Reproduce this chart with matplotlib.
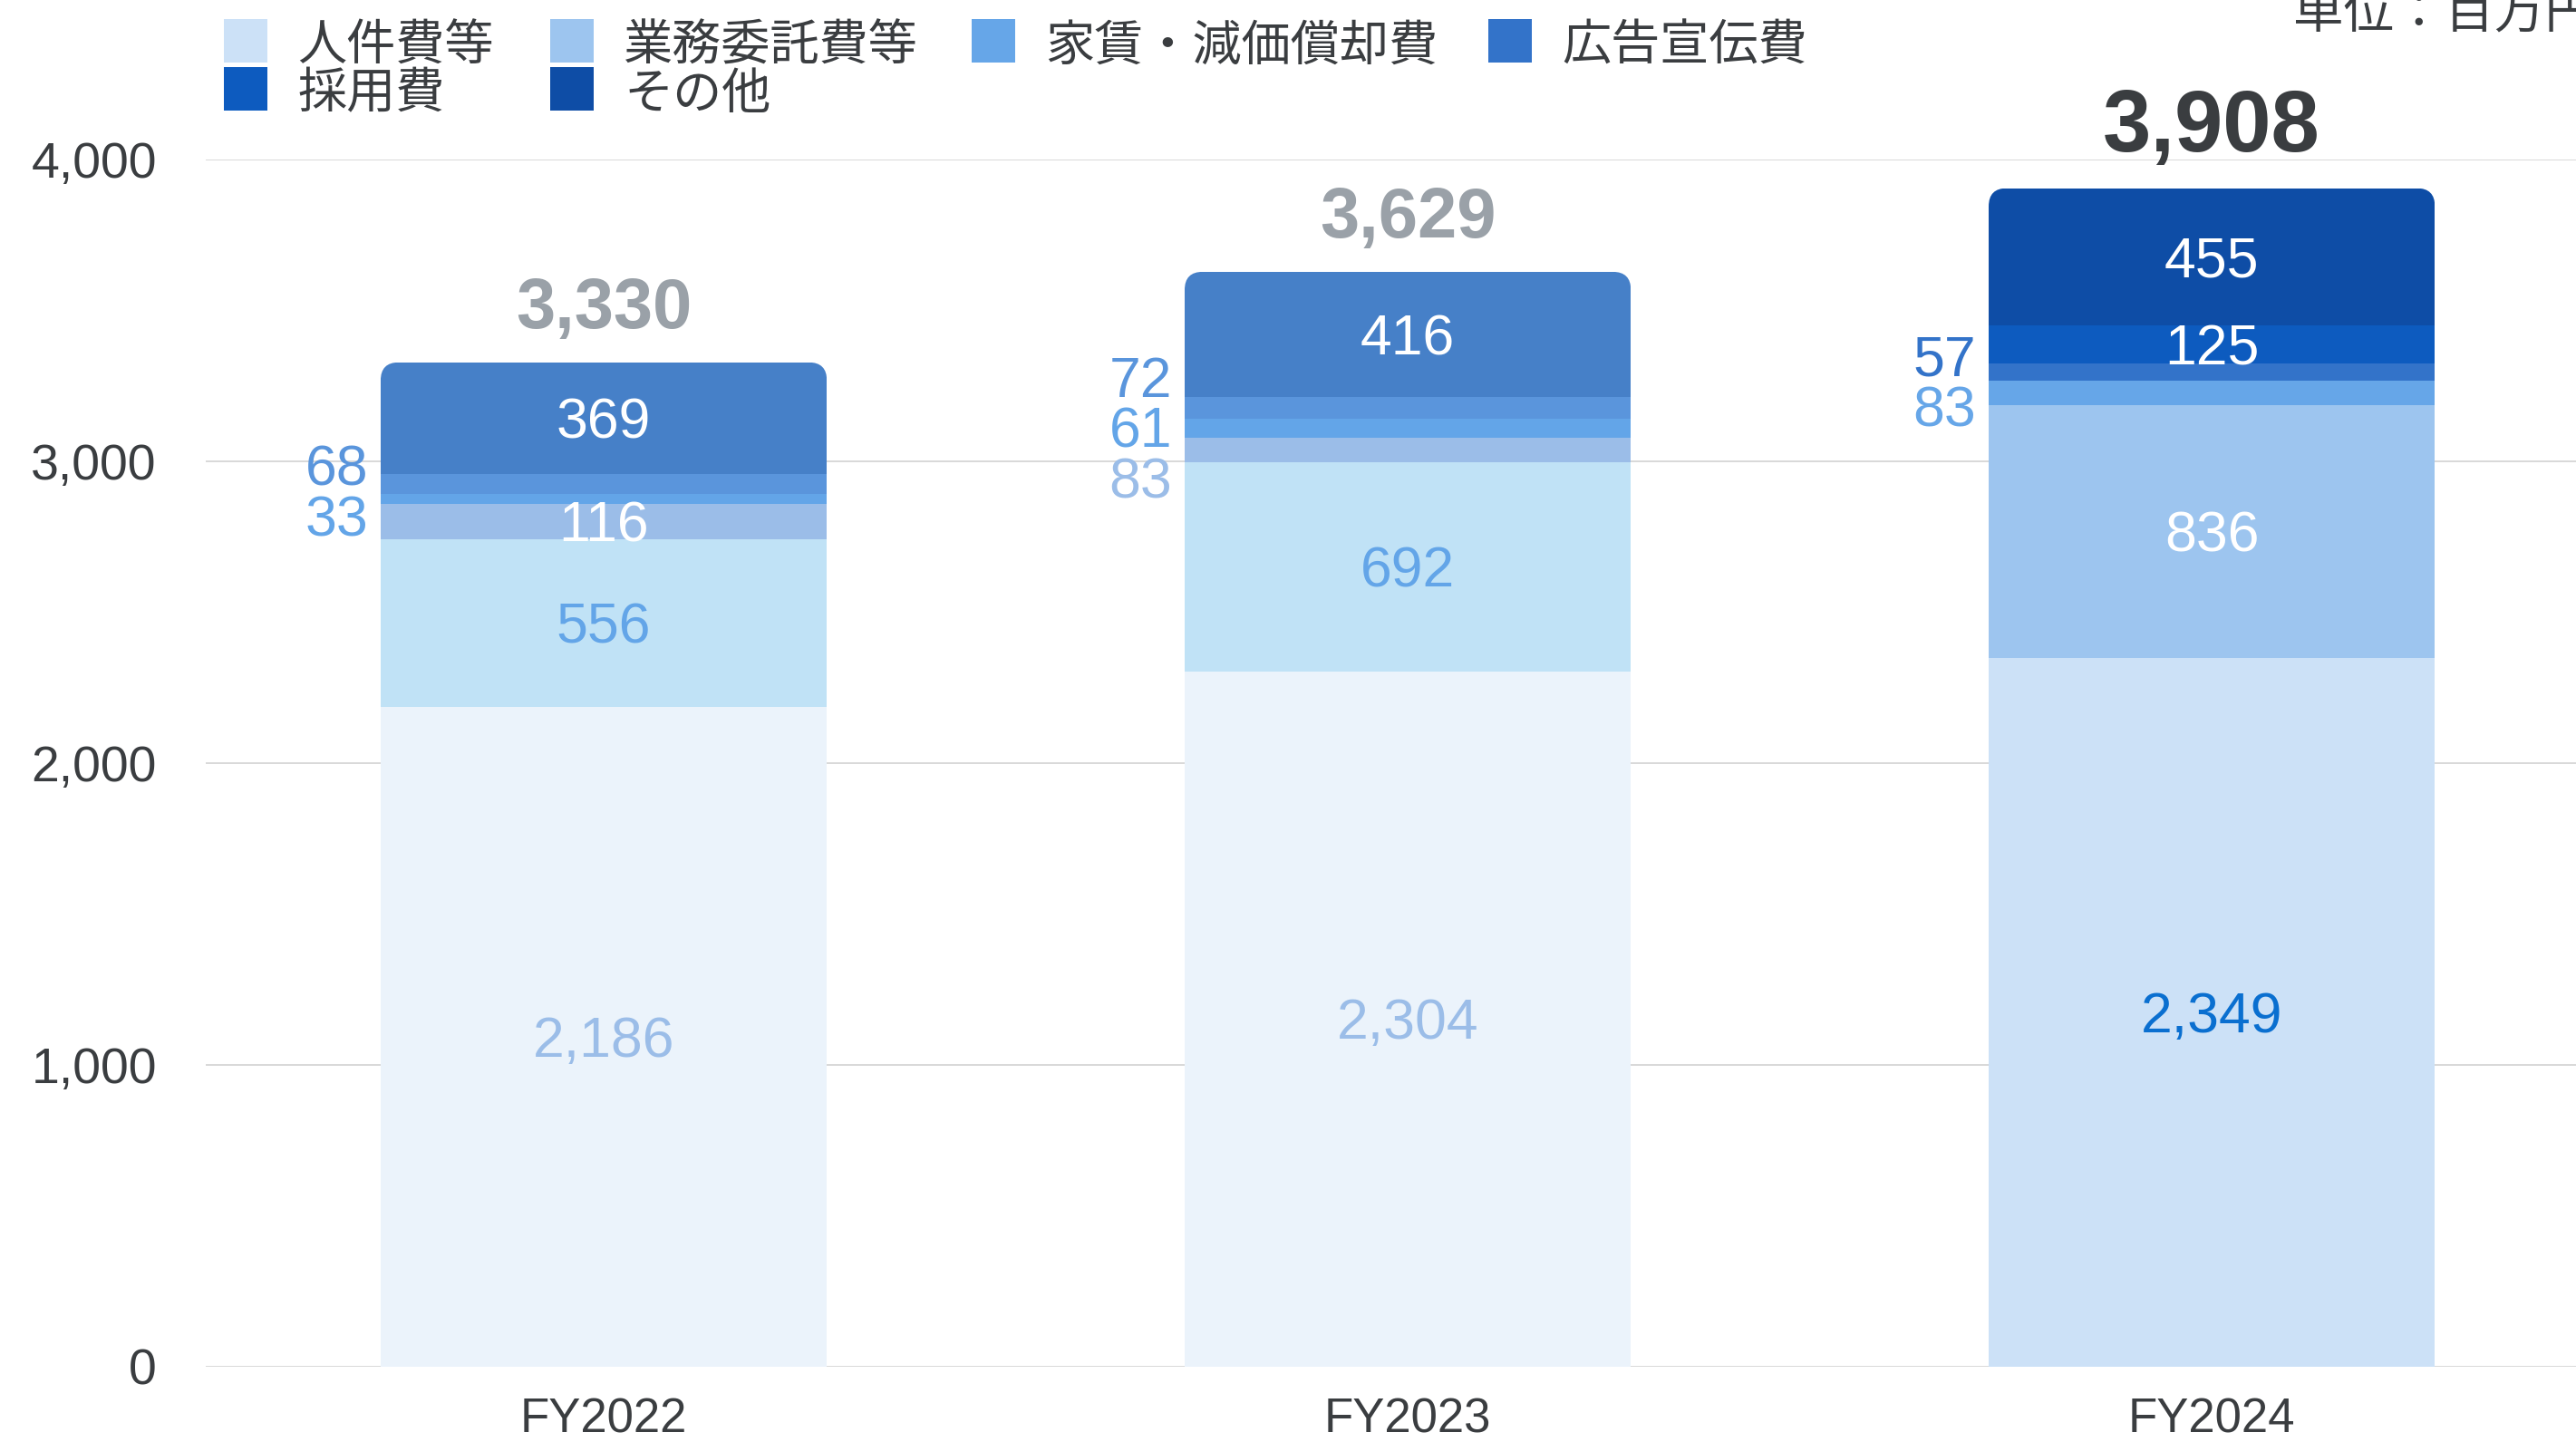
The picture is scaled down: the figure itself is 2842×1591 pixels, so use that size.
import matplotlib
matplotlib.use("Agg")
import matplotlib.pyplot as plt
from matplotlib.patches import FancyBboxPatch, Rectangle
import numpy as np

# ---------------- data ----------------
categories = ["FY2022", "FY2023", "FY2024"]
series_names = ["人件費等", "業務委託費等", "家賃・減価償却費", "広告宣伝費", "採用費", "その他"]
personnel = [2186, 2304, 2349]
outsourcing = [556, 692, 836]
rent_depr = [116, 83, 83]
advertising = [33, 61, 57]
recruiting = [68, 72, 125]
other = [369, 416, 455]
totals = [3330, 3629, 3908]
yticks = [0, 1000, 2000, 3000, 4000]
unit_label = "単位：百万円"

series_values = [personnel, outsourcing, rent_depr, advertising, recruiting, other]

# ---------------- style ----------------
new_colors = ["#cce1f7", "#9dc5ef", "#66a6e8", "#3373c9", "#0d5bbf", "#0e4da6"]
old_colors = ["#ebf3fb", "#c0e2f6", "#9bbde8", "#63a5e8", "#5a95dc", "#4680c8"]
bar_palettes = [old_colors, old_colors, new_colors]
inside_label_colors = [
    ["#9bbde8", "#63a5e8", "white", "white", "white", "white"],
    ["#9bbde8", "#63a5e8", "white", "white", "white", "white"],
    ["#0a6fd0", "white", "white", "white", "white", "white"],
]
TEXT = "#3a3d40"
GRID = "#d5d5d5"

W, H, DPI = 2842, 1591, 100
plt.rcParams["font.family"] = ["Liberation Sans", "Noto Sans CJK JP"]

fig = plt.figure(figsize=(W / DPI, H / DPI), dpi=DPI)
ax_left_px, ax_bottom_px, ax_top_px = 227, 1508, 176
ax = fig.add_axes([ax_left_px / W, (H - ax_bottom_px) / H,
                   1 - ax_left_px / W, (ax_bottom_px - ax_top_px) / H])
xlim = (-0.495, 2.453)
ylim = (0, 4000)
ax.set_xlim(*xlim)
ax.set_ylim(*ylim)

for s in ax.spines.values():
    s.set_visible(False)
ax.set_yticks(yticks)
ax.set_yticklabels([f"{v:,}" for v in yticks])
ax.yaxis.grid(True, color=GRID, linewidth=1.3, zorder=0)
ax.set_axisbelow(True)
ax.tick_params(axis="y", length=0, pad=39, labelsize=40, labelcolor=TEXT)
x = np.arange(len(categories))
ax.set_xticks(x)
ax.set_xticklabels(categories)
ax.tick_params(axis="x", length=0, pad=24, labelsize=38, labelcolor=TEXT)

# ---------------- bars ----------------
width = 0.555
bottom = np.zeros(len(categories))
patches_by_cat = [[] for _ in categories]
seg_info = [[] for _ in categories]  # (bottom, value)
for si, vals in enumerate(series_values):
    vals = np.array(vals, dtype=float)
    cols = [bar_palettes[i][si] for i in range(len(categories))]
    bars = ax.bar(x, vals, width=width, bottom=bottom, color=cols,
                  linewidth=0, zorder=3)
    for i, b in enumerate(bars):
        patches_by_cat[i].append(b)
        seg_info[i].append((bottom[i], vals[i]))
    bottom = bottom + vals
stack_tops = bottom

# rounded top corners via clip path
ax_w_px = W * (1 - ax_left_px / W)
ax_h_px = ax_bottom_px - ax_top_px
px_per_x = ax_w_px / (xlim[1] - xlim[0])
px_per_y = ax_h_px / (ylim[1] - ylim[0])
r_px = 20
r_x = r_px / px_per_x
aspect = px_per_x / px_per_y
for i in range(len(categories)):
    clip = FancyBboxPatch((x[i] - width / 2, -600), width, stack_tops[i] + 600,
                          boxstyle=f"round,pad=0,rounding_size={r_x}",
                          mutation_aspect=aspect, transform=ax.transData)
    for p in patches_by_cat[i]:
        p.set_clip_path(clip)

# ---------------- labels ----------------
label_fs = 45
side_spacing = 168  # data units between stacked side labels
for i in range(len(categories)):
    small = []
    for si, (b0, v) in enumerate(seg_info[i]):
        center = b0 + v / 2
        if v >= 100:
            ax.annotate(f"{int(v):,}", xy=(x[i], center), xytext=(0, -4),
                        textcoords="offset points", ha="center", va="center",
                        fontsize=label_fs, color=inside_label_colors[i][si],
                        zorder=5)
        else:
            small.append((center, v, bar_palettes[i][si]))
    if small:
        small.sort(key=lambda t: -t[0])
        mean_c = np.mean([t[0] for t in small])
        n = len(small)
        for k, (c, v, col) in enumerate(small):
            ypos = mean_c + side_spacing * ((n - 1) / 2 - k)
            ax.annotate(f"{int(v):,}", xy=(x[i] - width / 2, ypos),
                        xytext=(-10, -3), textcoords="offset points",
                        ha="right", va="center", fontsize=label_fs,
                        color=col, zorder=5, annotation_clip=False)

for i in range(len(categories)):
    last = i == len(categories) - 1
    ax.annotate(f"{totals[i]:,}", xy=(x[i], stack_tops[i]),
                xytext=(0, 29 if last else 27), textcoords="offset points",
                ha="center", va="baseline",
                fontsize=69 if last else 56, fontweight="bold",
                color=TEXT if last else "#9aa1a8", annotation_clip=False)

# ---------------- legend ----------------
leg_pos = [(247, 21), (607, 21), (1072, 21), (1642, 21), (247, 74), (607, 74)]
sq = 48
for (lx, ly), name, col in zip(leg_pos, series_names, new_colors):
    fig.patches.append(Rectangle((lx / W, 1 - (ly + sq) / H), sq / W, sq / H,
                                 transform=fig.transFigure, facecolor=col,
                                 edgecolor="none"))
    fig.text((lx + 81) / W, 1 - (ly + sq / 2 + 6) / H, name, ha="left",
             va="center", fontsize=39, color=TEXT,
             family=["Noto Sans CJK JP", "DejaVu Sans"])

fig.text(2530 / W, 1 - 31 / H, unit_label, ha="left", va="baseline",
         fontsize=40, color=TEXT, family=["Noto Sans CJK JP", "DejaVu Sans"])

fig.savefig("out.png", dpi=DPI)
